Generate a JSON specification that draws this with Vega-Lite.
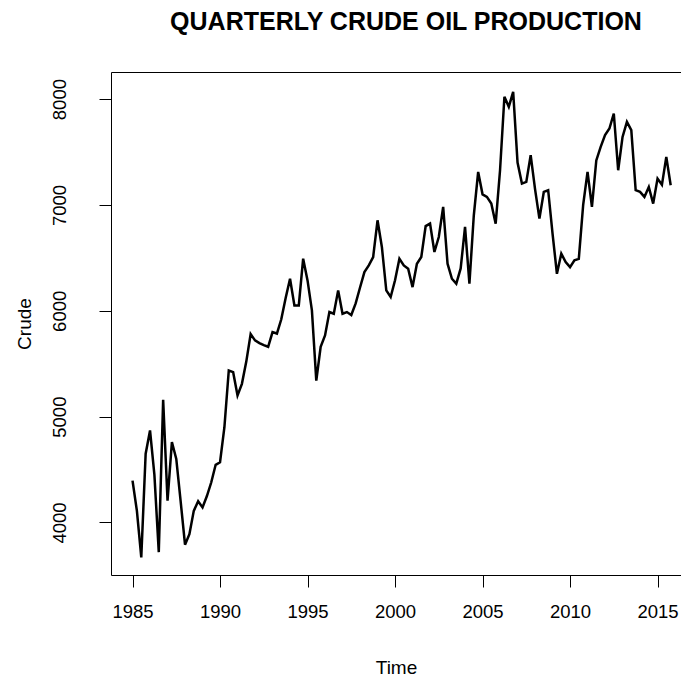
{
  "$schema": "https://vega.github.io/schema/vega-lite/v6.json",
  "autosize": {"type": "none"},
  "width": 570,
  "height": 503,
  "padding": {"left": 111, "top": 72, "right": 0, "bottom": 103},
  "background": "white",
  "title": {"text": "QUARTERLY CRUDE OIL PRODUCTION", "font": "Liberation Sans", "fontSize": 25, "fontWeight": "bold", "anchor": "middle", "frame": "group", "offset": 37, "dx": 10, "color": "black"},
  "config": {
    "view": {"stroke": null},
    "axis": {"labelFont": "Liberation Sans", "titleFont": "Liberation Sans", "labelFontSize": 18.5, "titleFontSize": 19, "titleFontWeight": "normal", "labelColor": "black", "titleColor": "black", "domainColor": "black", "tickColor": "black", "grid": false}
  },
  "data": {"values": [
    {"t": 1985.00, "crude": 4395}, {"t": 1985.25, "crude": 4110}, {"t": 1985.50, "crude": 3670}, {"t": 1985.75, "crude": 4650},
    {"t": 1986.00, "crude": 4870}, {"t": 1986.25, "crude": 4450}, {"t": 1986.50, "crude": 3720}, {"t": 1986.75, "crude": 5160},
    {"t": 1987.00, "crude": 4206}, {"t": 1987.25, "crude": 4760}, {"t": 1987.50, "crude": 4600}, {"t": 1987.75, "crude": 4200},
    {"t": 1988.00, "crude": 3790}, {"t": 1988.25, "crude": 3890}, {"t": 1988.50, "crude": 4110}, {"t": 1988.75, "crude": 4200},
    {"t": 1989.00, "crude": 4143}, {"t": 1989.25, "crude": 4250}, {"t": 1989.50, "crude": 4380}, {"t": 1989.75, "crude": 4545},
    {"t": 1990.00, "crude": 4569}, {"t": 1990.25, "crude": 4900}, {"t": 1990.50, "crude": 5436}, {"t": 1990.75, "crude": 5420},
    {"t": 1991.00, "crude": 5200}, {"t": 1991.25, "crude": 5310}, {"t": 1991.50, "crude": 5520}, {"t": 1991.75, "crude": 5780},
    {"t": 1992.00, "crude": 5720}, {"t": 1992.25, "crude": 5695}, {"t": 1992.50, "crude": 5675}, {"t": 1992.75, "crude": 5660},
    {"t": 1993.00, "crude": 5798}, {"t": 1993.25, "crude": 5785}, {"t": 1993.50, "crude": 5920}, {"t": 1993.75, "crude": 6120},
    {"t": 1994.00, "crude": 6303}, {"t": 1994.25, "crude": 6051}, {"t": 1994.50, "crude": 6051}, {"t": 1994.75, "crude": 6492},
    {"t": 1995.00, "crude": 6287}, {"t": 1995.25, "crude": 6004}, {"t": 1995.50, "crude": 5341}, {"t": 1995.75, "crude": 5660},
    {"t": 1996.00, "crude": 5767}, {"t": 1996.25, "crude": 5988}, {"t": 1996.50, "crude": 5972}, {"t": 1996.75, "crude": 6193},
    {"t": 1997.00, "crude": 5972}, {"t": 1997.25, "crude": 5988}, {"t": 1997.50, "crude": 5960}, {"t": 1997.75, "crude": 6070},
    {"t": 1998.00, "crude": 6220}, {"t": 1998.25, "crude": 6366}, {"t": 1998.50, "crude": 6429}, {"t": 1998.75, "crude": 6508},
    {"t": 1999.00, "crude": 6855}, {"t": 1999.25, "crude": 6600}, {"t": 1999.50, "crude": 6193}, {"t": 1999.75, "crude": 6130},
    {"t": 2000.00, "crude": 6288}, {"t": 2000.25, "crude": 6492}, {"t": 2000.50, "crude": 6429}, {"t": 2000.75, "crude": 6398},
    {"t": 2001.00, "crude": 6224}, {"t": 2001.25, "crude": 6445}, {"t": 2001.50, "crude": 6508}, {"t": 2001.75, "crude": 6800},
    {"t": 2002.00, "crude": 6824}, {"t": 2002.25, "crude": 6556}, {"t": 2002.50, "crude": 6697}, {"t": 2002.75, "crude": 6981},
    {"t": 2003.00, "crude": 6445}, {"t": 2003.25, "crude": 6303}, {"t": 2003.50, "crude": 6256}, {"t": 2003.75, "crude": 6400},
    {"t": 2004.00, "crude": 6792}, {"t": 2004.25, "crude": 6256}, {"t": 2004.50, "crude": 6900}, {"t": 2004.75, "crude": 7312},
    {"t": 2005.00, "crude": 7100}, {"t": 2005.25, "crude": 7076}, {"t": 2005.50, "crude": 7013}, {"t": 2005.75, "crude": 6823},
    {"t": 2006.00, "crude": 7328}, {"t": 2006.25, "crude": 8022}, {"t": 2006.50, "crude": 7927}, {"t": 2006.75, "crude": 8069},
    {"t": 2007.00, "crude": 7400}, {"t": 2007.25, "crude": 7202}, {"t": 2007.50, "crude": 7218}, {"t": 2007.75, "crude": 7470},
    {"t": 2008.00, "crude": 7150}, {"t": 2008.25, "crude": 6871}, {"t": 2008.50, "crude": 7123}, {"t": 2008.75, "crude": 7139},
    {"t": 2009.00, "crude": 6730}, {"t": 2009.25, "crude": 6350}, {"t": 2009.50, "crude": 6540}, {"t": 2009.75, "crude": 6461},
    {"t": 2010.00, "crude": 6413}, {"t": 2010.25, "crude": 6477}, {"t": 2010.50, "crude": 6490}, {"t": 2010.75, "crude": 7000},
    {"t": 2011.00, "crude": 7312}, {"t": 2011.25, "crude": 6981}, {"t": 2011.50, "crude": 7420}, {"t": 2011.75, "crude": 7549},
    {"t": 2012.00, "crude": 7660}, {"t": 2012.25, "crude": 7722}, {"t": 2012.50, "crude": 7864}, {"t": 2012.75, "crude": 7328},
    {"t": 2013.00, "crude": 7643}, {"t": 2013.25, "crude": 7785}, {"t": 2013.50, "crude": 7707}, {"t": 2013.75, "crude": 7139},
    {"t": 2014.00, "crude": 7123}, {"t": 2014.25, "crude": 7076}, {"t": 2014.50, "crude": 7170}, {"t": 2014.75, "crude": 7013},
    {"t": 2015.00, "crude": 7249}, {"t": 2015.25, "crude": 7190}, {"t": 2015.50, "crude": 7454}, {"t": 2015.75, "crude": 7186}
  ]},
  "layer": [
    {
      "mark": {"type": "line", "color": "black", "strokeWidth": 2.5, "clip": true},
      "encoding": {
        "x": {"field": "t", "type": "quantitative", "scale": {"domain": [1983.77, 2016.34], "nice": false, "zero": false},
              "axis": {"orient": "bottom", "values": [1985, 1990, 1995, 2000, 2005, 2010, 2015], "format": "d", "tickSize": 12, "labelPadding": 15, "labelFlush": false, "title": "Time", "titlePadding": 38, "domain": true}},
        "y": {"field": "crude", "type": "quantitative", "scale": {"domain": [3504, 8256], "nice": false, "zero": false},
              "axis": {"orient": "left", "values": [4000, 5000, 6000, 7000, 8000], "format": "d", "tickSize": 12, "labelAngle": -90, "labelAlign": "center", "labelBaseline": "bottom", "labelPadding": 30, "labelFlush": false, "title": "Crude", "titlePadding": 16, "domain": true}}
      }
    },
    {
      "mark": {"type": "line", "opacity": 0},
      "encoding": {
        "x": {"field": "t", "type": "quantitative", "axis": {"orient": "top", "labels": false, "ticks": false, "title": null, "domain": true}},
        "y": {"field": "crude", "type": "quantitative"}
      }
    }
  ],
  "resolve": {"axis": {"x": "independent"}}
}
